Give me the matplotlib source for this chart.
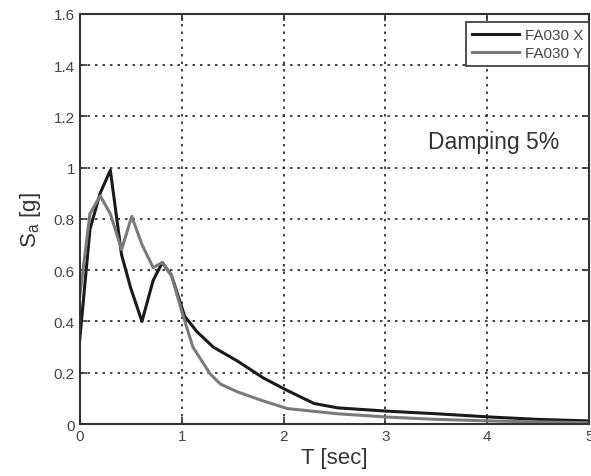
import matplotlib
matplotlib.use('Agg')
import matplotlib.pyplot as plt

plt.rcParams['font.family'] = ['Liberation Sans', 'DejaVu Sans']

# spectral acceleration
t_x = [0.0, 0.1, 0.2, 0.3, 0.41, 0.5, 0.61, 0.72, 0.81, 0.9, 1.03, 1.15, 1.31, 1.55, 1.8, 2.04, 2.3, 2.53, 3.02, 3.5, 4.04, 4.5, 5.0]
sa_x = [0.33, 0.76, 0.9, 0.99, 0.66, 0.53, 0.40, 0.56, 0.63, 0.58, 0.42, 0.36, 0.30, 0.245, 0.18, 0.13, 0.08, 0.063, 0.05, 0.04, 0.027, 0.018, 0.012]

t_y = [0.0, 0.1, 0.2, 0.3, 0.41, 0.51, 0.61, 0.72, 0.81, 0.9, 1.0, 1.11, 1.28, 1.38, 1.55, 1.8, 2.04, 2.53, 3.02, 3.5, 4.04, 4.5, 5.0]
sa_y = [0.5, 0.82, 0.89, 0.82, 0.68, 0.81, 0.7, 0.61, 0.63, 0.58, 0.44, 0.30, 0.195, 0.156, 0.125, 0.09, 0.06, 0.04, 0.027, 0.018, 0.012, 0.008, 0.005]

xticks = [0, 1, 2, 3, 4, 5]
yticks = [0, 0.2, 0.4, 0.6, 0.8, 1, 1.2, 1.4, 1.6]
ytick_labels = ['0', '0.2', '0.4', '0.6', '0.8', '1', '1.2', '1.4', '1.6']

fig = plt.figure(figsize=(5.91, 4.77), dpi=100)
ax = fig.add_axes([0.135, 0.109, 0.862, 0.86])

ax.plot(t_x, sa_x, color='#1a1a1a', lw=2.2, label='FA030 X')
ax.plot(t_y, sa_y, color='#7a7a7a', lw=2.2, label='FA030 Y')

ax.set_xlim(0, 5)
ax.set_ylim(0, 1.6)
ax.set_xticks(xticks)
ax.set_yticks(yticks)
ax.set_yticklabels(ytick_labels)
ax.tick_params(direction='in', top=True, right=True, colors='#333333',
               labelcolor='#444444', labelsize=11, width=1.2, length=5)
ax.grid(True, color='#222222', linestyle=(0, (1.5, 3)), linewidth=1.2)
for s in ax.spines.values():
    s.set_color('#333333')
    s.set_linewidth(1.5)

ax.set_xlabel('T [sec]', fontsize=16, color='#333333', labelpad=3)
ax.set_ylabel('S$_{\\mathregular{a}}$ [g]', fontsize=16, color='#333333', labelpad=8)

ax.text(4.06, 1.1, 'Damping 5%', fontsize=16.5, color='#333333', ha='center', va='center')

leg = ax.legend(loc='upper right', bbox_to_anchor=(1.0, 0.98), fontsize=11,
                frameon=True, fancybox=False, borderaxespad=0.0,
                handlelength=3.1, handletextpad=0.35, labelspacing=0.25,
                borderpad=0.4)
leg.get_frame().set_edgecolor('#333333')
leg.get_frame().set_linewidth(1.2)
leg.get_frame().set_alpha(1)
for txt in leg.get_texts():
    txt.set_color('#444444')

fig.savefig('out.png', dpi=100)
